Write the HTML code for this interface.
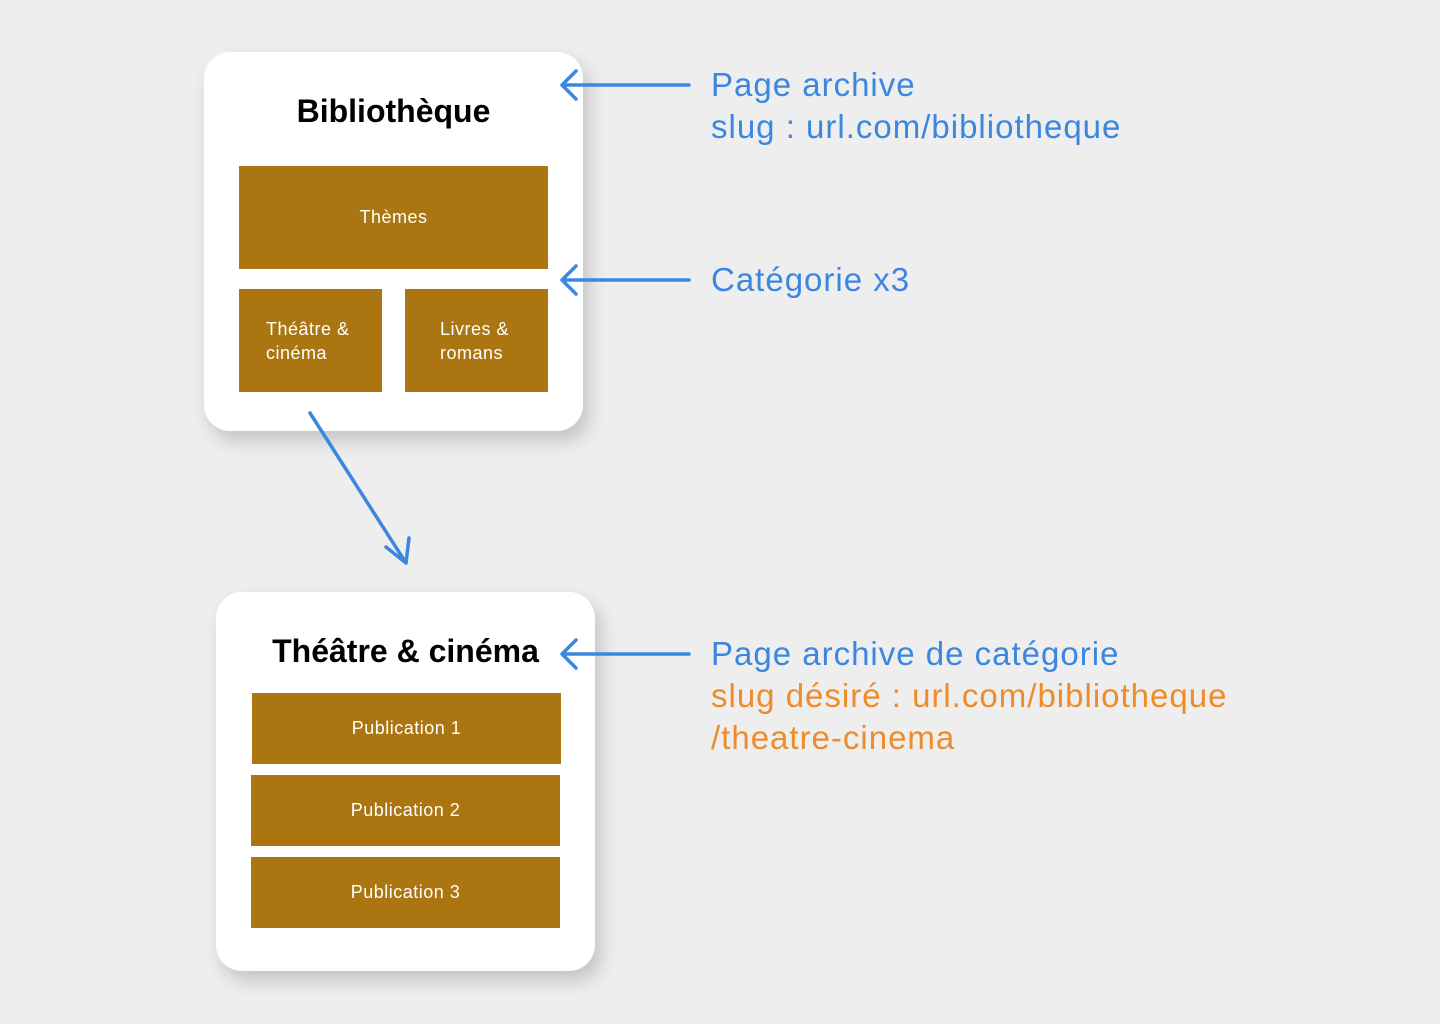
<!DOCTYPE html>
<html><head><meta charset="utf-8"><style>
body{margin:0;width:1440px;height:1024px;background:#eeeeee;position:relative;overflow:hidden;font-family:"Liberation Sans",sans-serif}
.card{position:absolute;background:#fff;border-radius:26px;box-shadow:6px 10px 18px rgba(0,0,0,0.18)}
.b{position:absolute;background:#ab7611;color:#fff;font-size:18px;letter-spacing:0.5px;display:flex;align-items:center;justify-content:center}
.t{position:absolute;font-size:32px;color:#000;text-align:center;font-weight:bold}
.lab{position:absolute;font-size:33px;line-height:42px;color:#3b87e0;white-space:nowrap;letter-spacing:1px}
</style></head><body>
<div class="card" style="left:204px;top:52px;width:379px;height:379px"></div>
<div class="t" style="left:204px;width:379px;top:93px">Bibliothèque</div>
<div class="b" style="left:239px;top:166px;width:309px;height:103px">Thèmes</div>
<div class="b" style="left:239px;top:289px;width:143px;height:103px;justify-content:flex-start;padding-left:27px;box-sizing:border-box;line-height:24px">Théâtre &amp;<br>cinéma</div>
<div class="b" style="left:405px;top:289px;width:143px;height:103px;justify-content:flex-start;padding-left:35px;box-sizing:border-box;line-height:24px">Livres &amp;<br>romans</div>

<div class="card" style="left:216px;top:592px;width:379px;height:379px"></div>
<div class="t" style="left:216px;width:379px;top:633px">Théâtre &amp; cinéma</div>
<div class="b" style="left:252px;top:693px;width:309px;height:71px">Publication 1</div>
<div class="b" style="left:251px;top:775px;width:309px;height:71px">Publication 2</div>
<div class="b" style="left:251px;top:857px;width:309px;height:71px">Publication 3</div>

<svg width="1440" height="1024" style="position:absolute;left:0;top:0" fill="none" stroke="#3b87e0" stroke-width="3.5" stroke-linecap="round" stroke-linejoin="round">
<path d="M689 85H562M576 71L562 85L576 99"/>
<path d="M689 280H562M576 266L562 280L576 294"/>
<path d="M689 654H562M576 640L562 654L576 668"/>
<path d="M310 413L406 563M386 547L406 563L409 538"/>
</svg>

<div class="lab" style="left:711px;top:64px">Page archive<br>slug : url.com/bibliotheque</div>
<div class="lab" style="left:711px;top:259px">Catégorie x3</div>
<div class="lab" style="left:711px;top:633px">Page archive de catégorie<br><span style="color:#ef8c2a">slug désiré : url.com/bibliotheque<br>/theatre-cinema</span></div>
</body></html>
